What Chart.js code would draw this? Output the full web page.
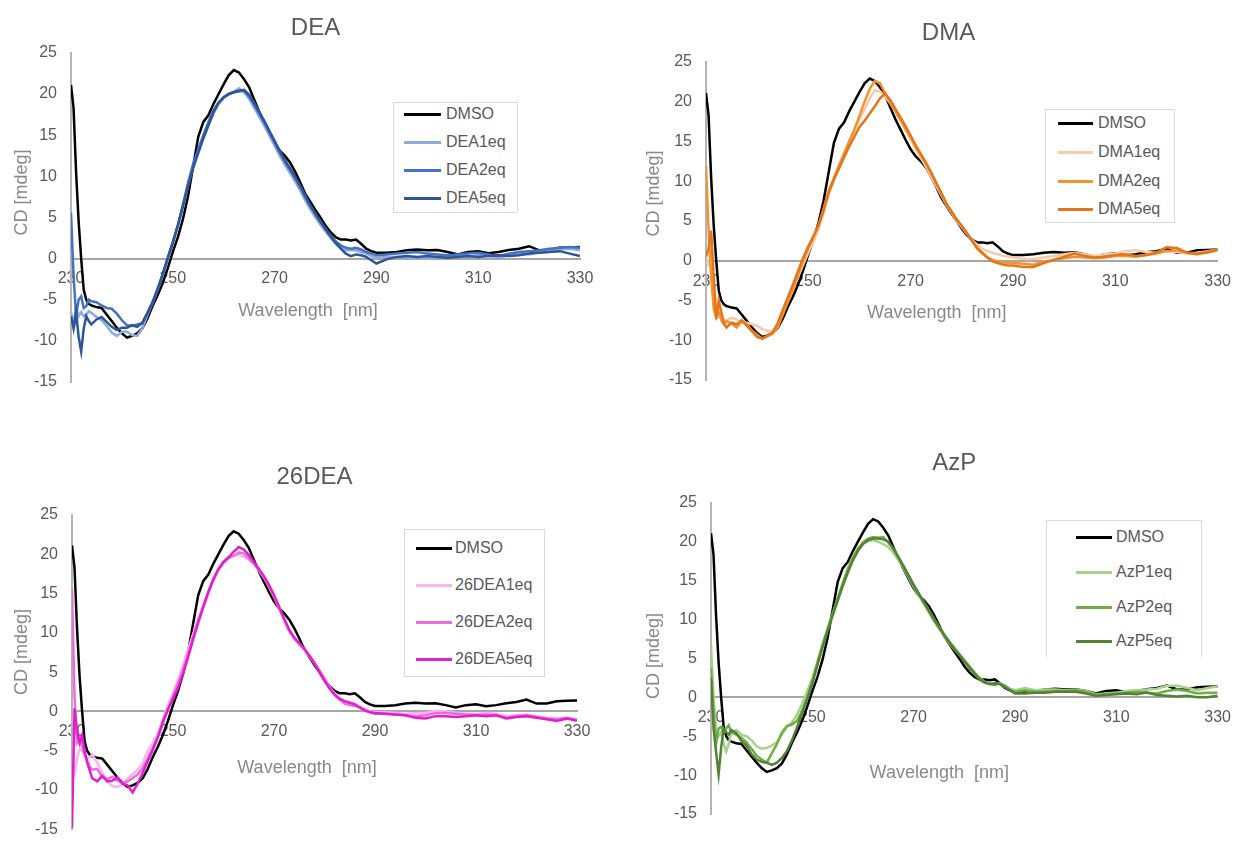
<!DOCTYPE html>
<html>
<head>
<meta charset="utf-8">
<script src="https://cdn.jsdelivr.net/npm/chart.js@4.4.1/dist/chart.umd.min.js"></script>
<style>
html, body { margin: 0; padding: 0; background: #fff; overflow: hidden; width: 1242px; height: 843px; }
canvas { position: absolute; }
.legend { position: absolute; border: 1px solid #d9d9d9; background: #fff; box-sizing: border-box; }
.leg-line { position: absolute; height: 3px; }
.leg-text { position: absolute; font: 16px 'Liberation Sans', Arial, sans-serif; color: #595959; line-height: 20px; white-space: nowrap; }
</style>
</head>
<body>
<canvas id="c0" width="621" height="421" style="left:0px;top:0px"></canvas>
<canvas id="c1" width="621" height="421" style="left:621px;top:0px"></canvas>
<canvas id="c2" width="621" height="432" style="left:0px;top:421px"></canvas>
<canvas id="c3" width="621" height="422" style="left:621px;top:421px"></canvas>

<script>
// --- DATOS ---
const wavelengths = [230, 230.5, 231, 231.5, 232, 232.5, 233, 233.5, 234,
  235, 236, 237, 238, 239, 240, 241, 242, 243, 244,
  245, 246, 247, 248, 249, 250, 251, 252, 253, 254,
  255, 256, 257, 258, 259, 260, 261, 262, 263, 264,
  265, 266, 267, 268, 269, 270, 271, 272, 273, 274,
  275, 276, 277, 278, 279, 280, 281, 282, 283, 284,
  285, 286, 287, 288, 289, 290,
  292, 294, 296, 298, 300, 302, 304, 306, 308, 310,
  312, 314, 316, 318, 320, 322, 324, 326, 328, 330];

const xTickValues = [230, 250, 270, 290, 310, 330];
const yTickValues = [-15, -10, -5, 0, 5, 10, 15, 20, 25];
const panelTitles = ['DEA', 'DMA', '26DEA', 'AzP'];
const xAxisTitle = 'Wavelength  [nm]';
const yAxisTitle = 'CD [mdeg]';

const deaLabels = ['DMSO', 'DEA1eq', 'DEA2eq', 'DEA5eq'];
const dmaLabels = ['DMSO', 'DMA1eq', 'DMA2eq', 'DMA5eq'];
const dea26Labels = ['DMSO', '26DEA1eq', '26DEA2eq', '26DEA5eq'];
const azpLabels = ['DMSO', 'AzP1eq', 'AzP2eq', 'AzP5eq'];

const dmso = [21.1, 18.3, 10.5, 4.5, 0.0, -3.8, -5.0, -5.5, -5.7,
  -5.9, -6.0, -6.8, -7.6, -8.4, -9.1, -9.6, -9.4, -9.1, -8.5,
  -7.3, -5.8, -4.5, -3.0, -1.2, 0.8, 2.6, 4.8, 7.6, 11.2,
  14.8, 16.6, 17.4, 18.8, 20.0, 21.2, 22.3, 22.9, 22.6, 21.8,
  20.8, 19.3, 17.8, 16.5, 15.2, 14.0, 13.1, 12.5, 11.7, 10.6,
  9.3, 7.9, 6.9, 5.9, 5.0, 4.0, 3.2, 2.6, 2.3, 2.3,
  2.2, 2.3, 1.8, 1.2, 0.9, 0.7,
  0.7, 0.8, 1.0, 1.1, 1.0, 1.05, 0.8, 0.5, 0.8, 0.9,
  0.65, 0.8, 1.05, 1.2, 1.5, 1.0, 1.0, 1.3, 1.35, 1.4];

const dea1eq = [-6.5, -8.0, -6.0, -7.0, -6.5, -7.0, -6.8, -6.4, -6.6,
  -7.1, -7.5, -8.2, -9.0, -9.4, -8.9, -8.9, -9.3, -9.4, -8.5,
  -6.9, -5.4, -3.8, -2.0, -0.2, 1.8, 3.9, 6.3, 8.9, 11.3,
  13.0, 14.6, 16.2, 17.6, 18.8, 19.5, 19.9, 20.3, 20.7, 20.2,
  19.4, 18.3, 17.2, 16.1, 14.9, 13.7, 12.5, 11.4, 10.4, 9.4,
  8.3, 7.1, 6.0, 5.0, 4.1, 3.3, 2.5, 1.8, 1.3, 1.0,
  1.0, 1.0, 0.8, 0.6, 0.3, 0.1,
  0.2, 0.2, 0.0, 0.1, 0.0, 0.1, 0.2, 0.3, 0.2, 0.4,
  0.3, 0.1, 0.4, 0.6, 0.5, 0.8, 1.0, 1.1, 1.2, 1.0];

const dea2eq = [5.6, -2.0, -7.0, -5.0, -4.6, -6.0, -5.8, -5.0, -5.2,
  -5.3, -5.7, -6.0, -6.1, -6.7, -7.5, -8.1, -8.2, -8.0, -7.9,
  -6.7, -5.4, -3.9, -2.0, 0.0, 1.9, 4.0, 6.6, 9.2, 11.5,
  13.3, 15.0, 16.6, 18.0, 19.0, 19.6, 20.0, 20.2, 20.3, 20.4,
  19.7, 18.7, 17.6, 16.5, 15.3, 14.1, 12.9, 11.8, 10.8, 9.8,
  8.7, 7.5, 6.4, 5.4, 4.5, 3.6, 2.8, 2.1, 1.6, 1.3,
  1.2, 1.3, 1.1, 0.8, 0.6, 0.4,
  0.5, 0.6, 0.7, 0.8, 0.6, 0.5, 0.4, 0.5, 0.6, 0.7,
  0.5, 0.3, 0.6, 0.8, 0.9, 1.0, 1.2, 1.3, 1.4, 1.3];

const dea5eq = [-7.0, -8.5, -6.5, -9.5, -11.3, -8.5, -7.0, -7.6, -8.0,
  -7.4, -7.1, -7.7, -8.3, -8.7, -8.4, -8.4, -8.1, -8.3, -7.8,
  -6.6, -5.3, -3.7, -1.9, 0.1, 2.0, 4.1, 6.4, 8.8, 11.0,
  12.8, 14.6, 16.2, 17.8, 18.9, 19.6, 20.0, 20.2, 20.4, 20.5,
  19.9, 18.9, 17.8, 16.7, 15.5, 14.3, 13.1, 12.0, 11.0, 10.0,
  8.9, 7.7, 6.5, 5.5, 4.5, 3.6, 2.7, 1.9, 1.2, 0.6,
  0.3, 0.5, 0.4, 0.2, -0.2, -0.6,
  -0.1, 0.2, 0.3, 0.2, 0.3, 0.2, 0.1, 0.2, 0.3, 0.2,
  0.3, 0.4, 0.3, 0.4, 0.6, 0.7, 0.8, 0.9, 0.6, 0.3];

const dma1eq = [0.0, -0.5, 1.0, -3.0, -5.5, -6.5, -7.0, -7.5, -7.5,
  -7.2, -7.4, -7.8, -7.8, -8.0, -8.2, -8.6, -8.8, -8.9, -8.0,
  -6.5, -5.0, -3.6, -2.0, -0.5, 1.0, 2.4, 4.0, 6.0, 8.3,
  10.2, 11.8, 13.4, 15.0, 16.4, 17.8, 19.0, 20.4, 21.4, 21.3,
  20.6, 19.8, 18.7, 17.6, 16.4, 15.2, 14.0, 12.9, 11.8, 10.6,
  9.4, 8.2, 7.0, 6.0, 5.0, 4.2, 3.4, 2.6, 2.0, 1.5,
  1.2, 1.0, 0.8, 0.6, 0.5, 0.4,
  0.2, 0.2, 0.4, 0.6, 0.8, 1.0, 0.8, 0.6, 0.8, 0.9,
  1.2, 1.3, 1.1, 1.0, 1.2, 1.1, 0.9, 1.0, 1.2, 1.4];

const dma2eq = [11.9, 4.0, -2.0, -6.0, -7.2, -6.5, -7.5, -8.0, -7.6,
  -7.9, -8.4, -7.6, -8.0, -8.8, -9.3, -9.8, -9.5, -9.2, -8.4,
  -6.8, -5.2, -3.6, -1.8, 0.0, 1.6, 2.9, 4.5, 6.6, 8.8,
  10.4, 12.0, 13.5, 15.0, 16.5, 18.2, 20.0, 21.6, 22.6, 22.3,
  21.1, 19.9, 18.8, 17.7, 16.6, 15.5, 14.3, 13.2, 12.2, 11.0,
  9.7, 8.4, 7.1, 6.1, 5.1, 4.3, 3.4, 2.5, 1.5, 0.9,
  0.4, 0.1, -0.1, -0.2, -0.3, -0.3,
  -0.4, -0.5, -0.1, 0.1, 0.3, 0.5, 0.4, 0.3, 0.4, 0.6,
  0.6, 0.5, 0.7, 0.9, 1.2, 1.3, 1.0, 0.9, 1.0, 1.3];

const dma5eq = [0.5, 1.5, 3.8, -2.0, -7.3, -5.0, -6.5, -7.8, -8.4,
  -7.8, -8.0, -7.5, -8.2, -8.9, -9.6, -9.8, -9.4, -9.0, -7.9,
  -6.2, -4.6, -3.0, -1.3, 0.4, 1.8, 3.1, 4.4, 6.4, 8.6,
  10.2, 11.6, 13.0, 14.4, 15.6, 16.8, 17.6, 18.5, 19.4, 20.4,
  21.0, 20.2, 19.1, 18.0, 16.9, 15.7, 14.5, 13.4, 12.3, 11.1,
  9.8, 8.5, 7.2, 6.2, 5.2, 4.4, 3.5, 2.5, 1.6, 1.0,
  0.4, -0.1, -0.3, -0.5, -0.6, -0.6,
  -0.8, -0.8, -0.3, 0.1, 0.5, 0.9, 0.6, 0.4, 0.5, 0.7,
  0.8, 0.6, 0.7, 1.0, 1.7, 1.6, 1.0, 0.8, 1.1, 1.4];

const dea26_1eq = [-3.0, -8.3, -6.0, -4.8, -5.0, -5.5, -6.0, -5.8, -5.5,
  -6.5, -7.8, -8.8, -9.5, -9.6, -9.3, -8.5, -8.0, -7.4, -6.6,
  -5.0, -4.0, -2.8, -1.0, 0.8, 2.4, 4.0, 5.9, 7.9, 9.9,
  11.9, 13.5, 15.3, 16.9, 18.2, 19.1, 19.6, 19.8, 19.9, 19.7,
  19.3, 18.7, 17.9, 17.0, 15.9, 14.6, 13.1, 11.6, 10.2, 9.2,
  8.5, 7.8, 7.0, 6.1, 5.1, 4.1, 3.1, 2.3, 1.7, 1.3,
  1.1, 1.0, 0.6, 0.3, 0.0, -0.1,
  -0.1, -0.2, -0.3, -0.2, -0.2, 0.1, 0.0, -0.2, -0.3, -0.3,
  -0.2, -0.3, -0.6, -0.5, -0.4, -0.6, -0.8, -0.9, -0.9, -1.0];

const dea26_2eq = [15.6, 2.0, -4.0, -3.5, -4.5, -5.5, -6.2, -7.0, -7.4,
  -7.3, -8.4, -8.6, -8.3, -8.8, -9.1, -8.9, -8.5, -8.0, -7.2,
  -6.0, -4.6, -3.2, -1.5, 0.2, 1.9, 3.5, 5.3, 7.4, 9.5,
  11.5, 13.3, 15.1, 16.7, 18.0, 18.9, 19.5, 19.8, 20.2, 20.1,
  19.5, 18.8, 18.0, 17.1, 16.0, 14.7, 13.2, 11.7, 10.3, 9.3,
  8.6, 7.9, 7.1, 6.2, 5.2, 4.2, 3.1, 2.2, 1.5, 1.0,
  0.8, 0.7, 0.5, 0.2, -0.1, -0.3,
  -0.3, -0.4, -0.5, -0.6, -0.5, -0.2, -0.2, -0.3, -0.4, -0.5,
  -0.4, -0.5, -0.8, -0.6, -0.5, -0.7, -0.9, -1.0, -0.8, -1.1];

const dea26_5eq = [-14.8, 0.4, -2.5, -4.0, -3.0, -5.0, -6.5, -7.5, -8.5,
  -8.9, -8.2, -8.9, -8.8, -8.4, -9.2, -9.4, -10.3, -9.2, -7.8,
  -6.3, -4.9, -3.3, -1.3, 0.3, 1.6, 3.0, 4.8, 6.9, 9.2,
  11.3, 13.3, 15.2, 16.8, 18.1, 19.0, 19.6, 20.3, 20.9, 20.6,
  19.9, 19.0, 18.1, 17.2, 16.1, 14.8, 13.3, 11.8, 10.4, 9.4,
  8.7, 8.0, 7.1, 6.1, 5.0, 3.9, 2.9, 2.1, 1.6, 1.3,
  1.1, 0.9, 0.5, 0.1, -0.1, -0.2,
  -0.3, -0.4, -0.5, -0.8, -0.9, -0.6, -0.6, -0.7, -0.6, -0.5,
  -0.6, -0.5, -0.9, -0.7, -0.6, -0.8, -1.0, -1.2, -0.9, -1.2];

const azp1eq = [6.8, 0.0, -4.0, -5.0, -4.5, -6.0, -7.0, -6.0, -4.5,
  -4.2, -4.8, -5.0, -5.5, -6.3, -6.6, -6.5, -6.2, -5.8, -4.8,
  -3.8, -3.2, -2.2, -0.8, 0.8, 2.5, 4.6, 6.8, 8.6, 10.5,
  12.6, 14.7, 16.6, 18.0, 19.1, 19.8, 20.1, 20.2, 20.0, 19.7,
  19.3, 18.6, 17.6, 16.6, 15.4, 14.2, 13.1, 12.0, 10.9, 9.8,
  8.8, 7.9, 7.0, 6.2, 5.5, 4.7, 3.9, 3.1, 2.4, 1.9,
  1.8, 1.7, 1.8, 1.5, 1.1, 0.9,
  1.2, 0.9, 1.0, 1.0, 0.9, 1.0, 0.8, 0.4, 0.5, 0.6,
  0.8, 0.9, 1.0, 1.1, 1.5, 1.5, 1.2, 0.9, 1.2, 1.4];

const azp2eq = [3.8, -2.0, -6.0, -4.0, -3.8, -4.5, -4.0, -3.6, -4.5,
  -4.8, -5.2, -5.8, -6.6, -7.5, -8.0, -8.4, -7.2, -6.0, -4.5,
  -3.7, -3.5, -3.0, -1.7, 0.0, 2.0, 4.4, 6.7, 8.8, 10.8,
  12.7, 14.6, 16.4, 17.9, 19.1, 19.9, 20.4, 20.6, 20.5, 20.6,
  19.9, 19.1, 18.0, 16.9, 15.7, 14.5, 13.4, 12.3, 11.2, 10.1,
  9.1, 8.1, 7.2, 6.4, 5.6, 4.8, 4.0, 3.2, 2.5, 2.0,
  1.7, 1.6, 1.8, 1.5, 1.0, 0.7,
  0.9, 0.7, 0.7, 0.8, 0.8, 0.9, 0.7, 0.3, 0.4, 0.5,
  0.6, 0.7, 0.6, 0.5, 0.8, 1.0, 0.8, 0.5, 0.6, 0.6];

const azp5eq = [2.5, -4.0, -7.0, -9.9, -6.5, -4.0, -4.5, -4.8, -4.2,
  -4.6, -5.6, -6.2, -7.3, -8.0, -8.3, -8.4, -8.7, -8.4, -7.8,
  -6.9, -5.5, -3.8, -2.0, -0.2, 1.8, 4.1, 6.4, 8.5, 10.5,
  12.4, 14.3, 16.0, 17.6, 18.8, 19.7, 20.2, 20.4, 20.4, 20.3,
  20.0, 19.1, 18.0, 16.8, 15.6, 14.4, 13.3, 12.2, 11.1, 10.0,
  9.0, 8.0, 7.1, 6.2, 5.4, 4.6, 3.8, 3.0, 2.3, 1.9,
  1.7, 1.8, 1.7, 1.3, 0.9, 0.5,
  0.5, 0.6, 0.6, 0.7, 0.7, 0.7, 0.5, 0.2, 0.3, 0.4,
  0.5, 0.4, 0.6, 0.3, 0.2, 0.1, 0.2, 0.0, 0.0, 0.2];

// --- ESTILO Y POSICIONES DE CADA PANEL ---
const FONT = "'Liberation Sans', Arial, sans-serif";
Chart.defaults.font.family = FONT;

const panels = [
  { id: 'c0', title: panelTitles[0], labels: deaLabels, series: [dmso, dea1eq, dea2eq, dea5eq],
    colors: ['#000000', '#8faadc', '#4472c4', '#2f5597'],
    pad: { left: 11, right: 41, top: 0, bottom: 39 }, yWidth: 60,
    titlePad: { top: 14, bottom: 10 }, titleShift: 3, xTickPad: 10, xTitlePad: 2, xShift: 7, yShift: 10,
    legend: { left: 393, top: 102, width: 125, height: 111, rows: [114, 142, 170, 198], lx1: 404, lx2: 441, tx: 446, noBottom: false } },
  { id: 'c1', title: panelTitles[1], labels: dmaLabels, series: [dmso, dma1eq, dma2eq, dma5eq],
    colors: ['#000000', '#f8cba6', '#f5922f', '#e2761b'],
    pad: { left: 22, right: 18, top: 0, bottom: 41 }, yWidth: 63,
    titlePad: { top: 19, bottom: 14 }, titleShift: 4, xTickPad: 11, xTitlePad: 0, xShift: 10, yShift: 11,
    legend: { left: 1045, top: 109, width: 130, height: 114, rows: [123, 152, 181, 209], lx1: 1058, lx2: 1093, tx: 1098, noBottom: false } },
  { id: 'c2', title: panelTitles[2], labels: dea26Labels, series: [dmso, dea26_1eq, dea26_2eq, dea26_5eq],
    colors: ['#000000', '#f7b4ee', '#ee6ae0', '#e21fcb'],
    pad: { left: 11, right: 44, top: 0, bottom: 16 }, yWidth: 61,
    titlePad: { top: 42, bottom: 23 }, titleShift: 3, xTickPad: 11, xTitlePad: 5, xShift: 7, yShift: 8,
    legend: { left: 404, top: 529, width: 141, height: 148, rows: [548, 585, 622, 659], lx1: 416, lx2: 452, tx: 455, noBottom: false } },
  { id: 'c3', title: panelTitles[3], labels: azpLabels, series: [dmso, azp1eq, azp2eq, azp5eq],
    colors: ['#000000', '#a9d18e', '#70ad47', '#548235'],
    pad: { left: 22, right: 23, top: 0, bottom: 29 }, yWidth: 68,
    titlePad: { top: 28, bottom: 25 }, titleShift: 3, xTickPad: 11, xTitlePad: 24, xShift: 10, yShift: 1,
    legend: { left: 1046, top: 520, width: 156, height: 137, rows: [537, 572, 607, 641], lx1: 1076, lx2: 1112, tx: 1116, noBottom: true } }
];

const NB = '\u00a0';

function crearGrafico(p) {
  const canvas = document.getElementById(p.id);
  const datasets = p.series.map((valores, i) => ({
    label: p.labels[i],
    data: wavelengths.map((w, k) => ({ x: w, y: valores[k] })),
    borderColor: p.colors[i],
    backgroundColor: p.colors[i],
    borderWidth: 2.5,
    pointRadius: 0,
    tension: 0,
    fill: false,
    order: p.series.length - i
  }));

  return new Chart(canvas, {
    type: 'line',
    data: { datasets: datasets },
    options: {
      responsive: false,
      animation: false,
      devicePixelRatio: 1,
      layout: { padding: p.pad },
      plugins: {
        legend: { display: false },
        tooltip: { enabled: false },
        title: {
          display: true,
          text: p.title + NB.repeat(p.titleShift),
          fullSize: false,
          color: '#595959',
          font: { size: 24, weight: 'normal' },
          padding: p.titlePad
        }
      },
      scales: {
        x: {
          type: 'linear',
          min: 230, max: 330,
          position: { y: 0 },
          afterBuildTicks: (s) => { s.ticks = xTickValues.map(v => ({ value: v })); },
          ticks: { color: '#595959', font: { size: 16 }, padding: p.xTickPad, maxRotation: 0, autoSkip: false },
          grid: { display: false, drawTicks: false },
          border: { display: true, color: '#a6a6a6', width: 2 },
          title: {
            display: true,
            text: xAxisTitle + NB.repeat(p.xShift),
            color: '#898989',
            font: { size: 18 },
            padding: { top: p.xTitlePad, bottom: 0 }
          }
        },
        y: {
          type: 'linear',
          min: -15, max: 25,
          position: 'left',
          afterBuildTicks: (s) => { s.ticks = yTickValues.map(v => ({ value: v })); },
          afterFit: (s) => { s.width = p.yWidth; },
          ticks: { color: '#595959', font: { size: 16 }, padding: 14 },
          grid: { display: false, drawTicks: false },
          border: { display: true, color: '#b4b4b4', width: 2 },
          title: {
            display: true,
            text: NB.repeat(p.yShift) + yAxisTitle,
            color: '#898989',
            font: { size: 18 },
            padding: { top: 0, bottom: 0 }
          }
        }
      }
    }
  });
}

function crearLeyenda(p) {
  const L = p.legend;
  const box = document.createElement('div');
  box.className = 'legend';
  box.style.left = L.left + 'px';
  box.style.top = L.top + 'px';
  box.style.width = L.width + 'px';
  box.style.height = L.height + 'px';
  if (L.noBottom) box.style.borderBottom = 'none';
  document.body.appendChild(box);

  p.labels.forEach((label, i) => {
    const y = L.rows[i];
    const line = document.createElement('div');
    line.className = 'leg-line';
    line.style.left = L.lx1 + 'px';
    line.style.top = (y - 1.5) + 'px';
    line.style.width = (L.lx2 - L.lx1) + 'px';
    line.style.background = p.colors[i];
    document.body.appendChild(line);

    const txt = document.createElement('div');
    txt.className = 'leg-text';
    txt.style.left = L.tx + 'px';
    txt.style.top = (y - 10) + 'px';
    txt.textContent = label;
    document.body.appendChild(txt);
  });
}

panels.forEach(p => {
  crearGrafico(p);
  crearLeyenda(p);
});
</script>
</body>
</html>
